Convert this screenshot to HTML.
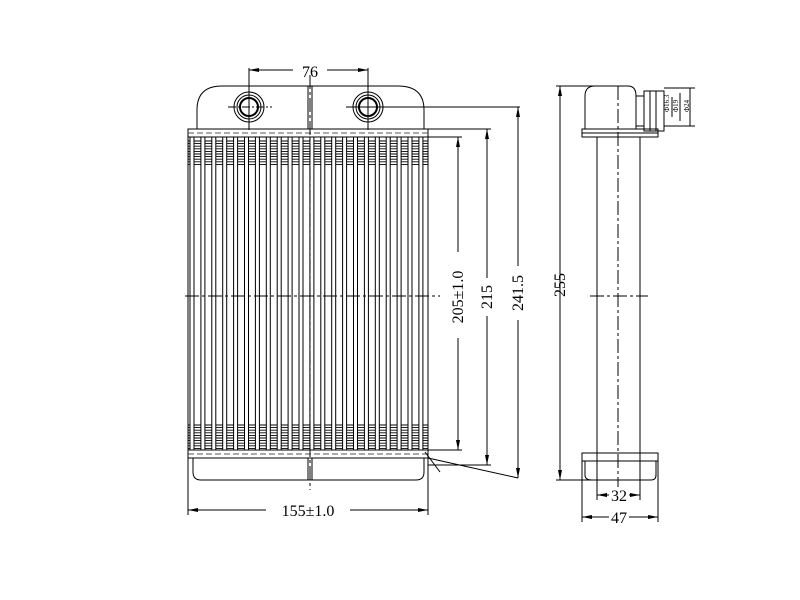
<!DOCTYPE html>
<html><head><style>body{margin:0;background:#fff}svg{display:block}text{font-family:"Liberation Serif",serif;fill:#000}</style></head>
<body>
<svg id="s" width="800" height="600" viewBox="0 0 800 600" xmlns="http://www.w3.org/2000/svg" stroke="#000" fill="none" stroke-width="1">
<defs><marker id="a" markerWidth="10" markerHeight="6" refX="10" refY="3" orient="auto-start-reverse"><path d="M0,1 L10,3 L0,5z" fill="#000" stroke="none"/></marker></defs>
<path d="M197,129 L197,110 Q197,86 222,86 L398,86 Q424,86 424,110 L424,129"/>
<rect x="188" y="129" width="240" height="8"/>
<line x1="188" y1="133" x2="428" y2="133" stroke-dasharray="6 3" stroke="#555"/>
<circle cx="249" cy="107" r="15"/><circle cx="249" cy="107" r="12"/><circle cx="249" cy="107" r="9" stroke-width="2"/>
<circle cx="368" cy="107" r="15"/><circle cx="368" cy="107" r="12"/><circle cx="368" cy="107" r="9" stroke-width="2"/>
<line x1="228" y1="107" x2="272" y2="107" stroke-dasharray="8 2 2 2"/><line x1="346" y1="107" x2="520" y2="107"/>
<line x1="249" y1="68" x2="249" y2="130"/><line x1="368" y1="68" x2="368" y2="130"/>
<line x1="249" y1="70" x2="368" y2="70" marker-start="url(#a)" marker-end="url(#a)"/>
<rect x="293" y="62" width="34" height="16" fill="#fff" stroke="none"/>
<text x="310" y="77" font-size="16" text-anchor="middle" stroke="none">76</text>
<rect x="308" y="86" width="4" height="43"/>
<rect x="188" y="450" width="240" height="8"/>
<line x1="188" y1="454" x2="428" y2="454" stroke-dasharray="6 3" stroke="#555"/>
<path d="M193,458 L193,472 Q193,480 201,480 L416,480 Q424,480 424,472 L424,458"/>
<rect x="308" y="458" width="4" height="22"/>
<line x1="188" y1="137" x2="188" y2="515"/><line x1="428" y1="137" x2="428" y2="515"/>
<line x1="188" y1="510" x2="428" y2="510" marker-start="url(#a)" marker-end="url(#a)"/>
<rect x="266" y="501" width="84" height="18" fill="#fff" stroke="none"/>
<text x="308" y="516" font-size="16" text-anchor="middle" stroke="none">155±1.0</text>
<line x1="425" y1="452" x2="440" y2="472"/><line x1="428" y1="458" x2="518" y2="478"/>
<g id="tubes"></g>
<line x1="310" y1="75" x2="310" y2="490" stroke-dasharray="14 3 3 3"/>
<line x1="185" y1="296" x2="440" y2="296" stroke-dasharray="14 3 3 3"/>
<line x1="428" y1="137" x2="462" y2="137"/><line x1="428" y1="450" x2="462" y2="450"/>
<line x1="458" y1="137" x2="458" y2="450" marker-start="url(#a)" marker-end="url(#a)"/>
<line x1="428" y1="129" x2="491" y2="129"/><line x1="428" y1="465" x2="491" y2="465"/>
<line x1="487" y1="129" x2="487" y2="465" marker-start="url(#a)" marker-end="url(#a)"/>
<line x1="518" y1="107" x2="518" y2="478" marker-start="url(#a)" marker-end="url(#a)"/>
<g stroke="none" font-size="16">
<rect x="450" y="252" width="16" height="86" fill="#fff"/>
<text transform="translate(463,297) rotate(-90)" text-anchor="middle">205±1.0</text>
<rect x="479" y="278" width="16" height="38" fill="#fff"/>
<text transform="translate(492,297) rotate(-90)" text-anchor="middle">215</text>
<rect x="510" y="266" width="16" height="54" fill="#fff"/>
<text transform="translate(523,293) rotate(-90)" text-anchor="middle">241.5</text>
<rect x="552" y="266" width="16" height="38" fill="#fff"/>
<text transform="translate(565,285) rotate(-90)" text-anchor="middle">255</text>
</g>
<line x1="556" y1="86" x2="600" y2="86"/><line x1="556" y1="480" x2="600" y2="480"/>
<line x1="560" y1="86" x2="560" y2="480" marker-start="url(#a)" marker-end="url(#a)"/>
<path d="M585,129 L585,96 Q585,86 595,86 L628,86 Q636,86 636,96 L636,129"/>
<rect x="582" y="129" width="76" height="8"/><line x1="582" y1="133" x2="658" y2="133"/>
<rect x="597" y="137" width="43" height="316"/>
<line x1="618" y1="86" x2="618" y2="490" stroke-dasharray="14 3 3 3"/>
<line x1="590" y1="296" x2="648" y2="296" stroke-dasharray="14 3 3 3"/>
<rect x="582" y="453" width="76" height="8"/>
<path d="M585,461 L585,475 Q585,480 592,480 L651,480 Q656,480 656,475 L656,461"/>
<rect x="636" y="96" width="8" height="30"/><rect x="644" y="91" width="20" height="40"/>
<line x1="650" y1="91" x2="650" y2="131"/><line x1="656" y1="91" x2="656" y2="131"/>
<line x1="664" y1="88" x2="695" y2="88"/><line x1="664" y1="126" x2="695" y2="126"/>
<line x1="690" y1="88" x2="690" y2="126"/><line x1="680" y1="93" x2="680" y2="121"/><line x1="672" y1="97" x2="672" y2="117"/>
<g stroke="none" font-size="7"><text transform="translate(669,112) rotate(-90)">Φ16.3</text><text transform="translate(678,112) rotate(-90)">Φ19</text><text transform="translate(689,112) rotate(-90)">Φ24</text></g>
<line x1="582" y1="461" x2="582" y2="522"/><line x1="658" y1="461" x2="658" y2="522"/>
<line x1="597" y1="453" x2="597" y2="500"/><line x1="640" y1="453" x2="640" y2="500"/>
<line x1="597" y1="495" x2="640" y2="495" marker-start="url(#a)" marker-end="url(#a)"/>
<rect x="609" y="487" width="20" height="16" fill="#fff" stroke="none"/>
<text x="619" y="501" font-size="16" text-anchor="middle" stroke="none">32</text>
<line x1="582" y1="517" x2="658" y2="517" marker-start="url(#a)" marker-end="url(#a)"/>
<rect x="609" y="509" width="20" height="16" fill="#fff" stroke="none"/>
<text x="619" y="523" font-size="16" text-anchor="middle" stroke="none">47</text>
</svg>
<script>
var g=document.getElementById('tubes'),h='';
for(var y=141;y<166;y+=2.6)h+='<line x1="188" y1="'+y+'" x2="428" y2="'+y+'" stroke-width="0.9"/>';
for(var y=425;y<450;y+=2.6)h+='<line x1="188" y1="'+y+'" x2="428" y2="'+y+'" stroke-width="0.9"/>';
for(var i=0;i<22;i++){var x=190+i*10.9;h+='<rect x="'+x+'" y="137" width="4" height="313" fill="#fff"/>';}
g.innerHTML=h;
</script>
</body></html>
